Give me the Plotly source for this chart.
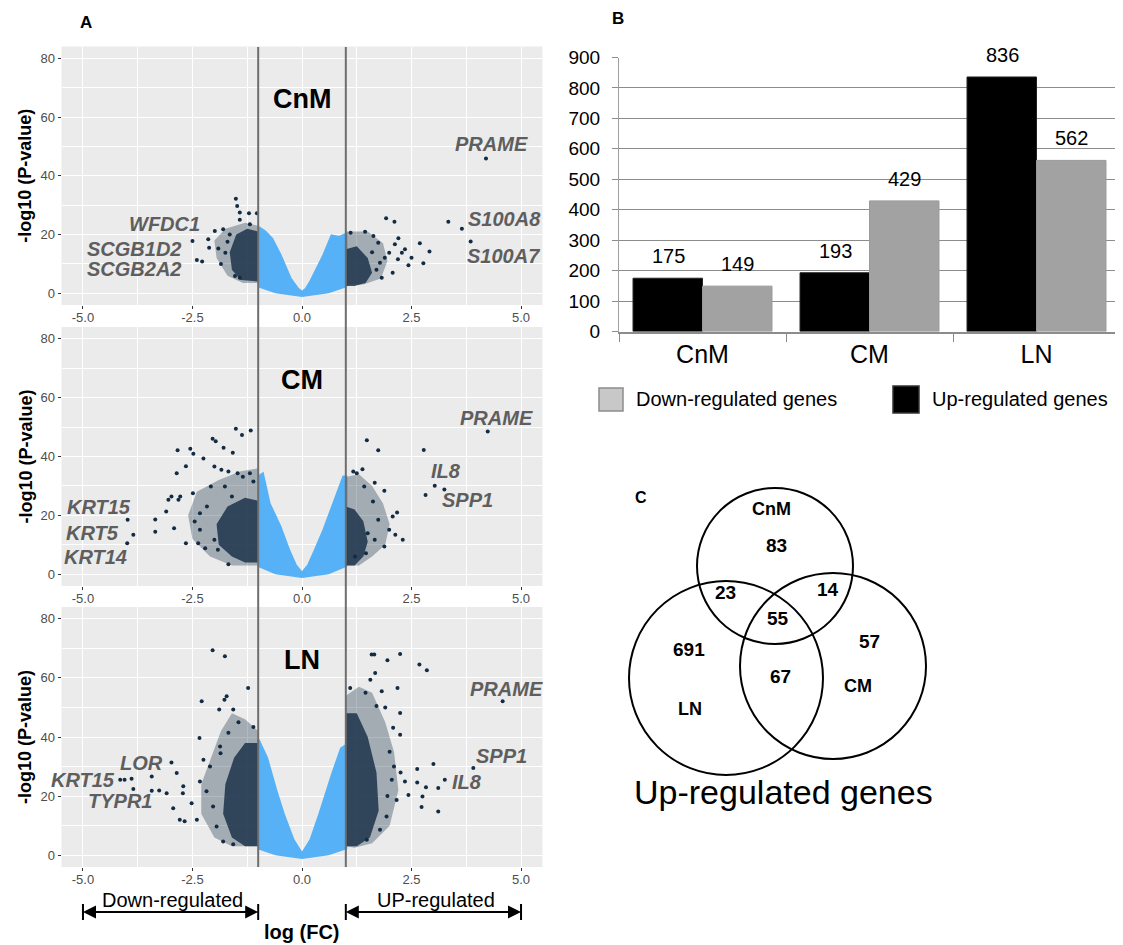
import plotly.graph_objects as go

FONT = "Liberation Sans, Arial, sans-serif"
W, H = 1123, 945
DARK = "#132B43"
LIGHT = "#56B1F7"

# ---------------- Panel A data ----------------
panel_names = ["CnM", "CM", "LN"]

# outline of the dense cloud of non-significant genes (|logFC| < 1)
ns_x = {
    "CnM": [-1.0, -0.85, -0.69, -0.5, -0.27, -0.1, 0.0, 0.1, 0.19, 0.34, 0.5, 0.68, 0.85, 1.0, 1.0, 0.6, 0.0, -0.6, -1.0],
    "CM":  [-1.0, -0.9, -0.75, -0.5, -0.3, -0.15, 0.0, 0.15, 0.3, 0.5, 0.7, 0.85, 0.95, 1.0, 1.0, 0.6, 0.0, -0.6, -1.0],
    "LN":  [-1.0, -0.81, -0.6, -0.43, -0.2, 0.0, 0.2, 0.41, 0.71, 0.9, 1.0, 1.0, 0.6, 0.0, -0.6, -1.0],
}
ns_y = {
    "CnM": [22.5, 21, 18.5, 13, 5, 1.5, 0.3, 1.5, 3.7, 8.2, 13, 19.5, 19, 20, 2.5, 0.5, -0.8, 0.5, 2.5],
    "CM":  [33, 34, 24, 16, 8, 3, 0.3, 3, 8, 15, 23, 29, 33, 33, 3, 0.5, -0.8, 0.5, 3],
    "LN":  [39, 33, 22, 14, 5, 0.3, 5, 14, 28, 36, 37, 2.5, 0.5, -0.8, 0.5, 2.5],
}

# outline of the wider (sparser) area of significant genes, left / right
sig_outer_x = {
    "CnM": [-1, -1, -1.3, -1.75, -2.0, -1.95, -1.7, -1.35, None, 1, 1, 1.5, 1.85, 1.95, 1.8, 1.4],
    "CM":  [-1, -1, -1.4, -1.9, -2.4, -2.6, -2.5, -2.1, -1.6, None, 1, 1, 1.3, 1.6, 1.85, 2.0, 1.9, 1.6, 1.3],
    "LN":  [-1, -1, -1.3, -1.6, -1.85, -2.1, -2.3, -2.3, -2.0, -1.6, None, 1, 1, 1.3, 1.6, 1.9, 2.1, 2.2, 2.0, 1.6, 1.2],
}
sig_outer_y = {
    "CnM": [3.5, 23, 24, 22, 18, 12, 6, 3.5, None, 3, 21, 21, 17, 11, 5, 3],
    "CM":  [3, 36, 35, 32, 28, 20, 12, 6, 3, None, 3, 33, 34, 30, 24, 17, 10, 6, 3],
    "LN":  [3, 42, 46, 48, 42, 32, 24, 14, 6, 3, None, 3, 54, 57, 55, 45, 35, 22, 10, 4, 2.5],
}
# outline of the densest core of significant genes
sig_core_x = {
    "CnM": [-1, -1, -1.25, -1.5, -1.65, -1.6, -1.4, None, 1, 1, 1.25, 1.5, 1.6, 1.45, 1.2],
    "CM":  [-1, -1, -1.3, -1.7, -1.95, -1.9, -1.6, -1.3, None, 1, 1, 1.2, 1.4, 1.5, 1.4, 1.2],
    "LN":  [-1, -1, -1.3, -1.55, -1.75, -1.8, -1.6, -1.3, None, 1, 1, 1.25, 1.5, 1.7, 1.75, 1.55, 1.25],
}
sig_core_y = {
    "CnM": [4, 21, 22, 20, 14, 8, 4.5, None, 2.5, 15, 16, 12, 7, 3.5, 2.5],
    "CM":  [4, 25, 26, 23, 17, 10, 6, 4, None, 3, 23, 22, 18, 11, 6, 3],
    "LN":  [3, 38, 38, 33, 24, 14, 6, 3, None, 3, 48, 48, 40, 28, 15, 6, 3],
}

# individually visible significant genes
pts_x = {
    "CnM": [4.2, 3.34, 3.65, 3.85, 1.92, 2.11, 2.69, 2.91, 2.77, 2.5, 2.43, 2.2, 2.12, 2.35, 2.07,
            1.82, 1.44, 1.11, 1.63, 1.74, 1.89, 1.78, 1.99, 2.28, 2.19, 1.7, 1.6,
            -1.51, -1.48, -1.42, -1.03, -2.50, -2.40, -2.28, -2.14, -1.99, -2.12, -1.91, -1.80,
            -1.65, -1.42, -1.53, -1.21, -1.19, -1.42, -1.75, -1.85, -1.7],
    "CM":  [4.24, 2.78, 3.03, 3.25, 2.82, 1.48, 1.74, 2.17, 2.30, 2.13, 1.88, 1.88, 1.66, 1.38, 1.17,
            1.25, 1.42, 1.62, 1.74, 1.50, 1.66, 1.99, 2.07, 1.46, 1.21,
            -1.51, -1.37, -1.17, -2.04, -1.97, -1.79, -1.58, -2.84, -2.55, -2.48, -2.65, -2.25,
            -3.98, -3.85, -3.99, -3.35, -3.35, -3.1, -2.92, -2.98, -2.82, -2.65, -1.68, -2.49,
            -2.33, -2.45, -2.33, -2.08, -2.17, -2.0, -1.84, -1.68, -1.47, -1.35, -1.19, -1.11,
            -1.92, -2.0, -2.21, -2.37, -2.78, -3.05, -2.86, -1.76, -1.60],
    "LN":  [4.58, 3.91, 3.0, 2.63, 2.63, 2.83, 2.43, 2.35, 2.75, 2.73, 3.11, 3.11, 3.26, 1.59, 1.65,
            2.24, 1.95, 2.68, 2.85, 1.67, 1.56, 2.18, 1.82, 1.10, 2.24, 2.08, 2.24, 2.05, 2.16,
            1.93, 1.78, 1.48, 1.9, 2.0, 2.1, 2.25, 1.95, 1.45, 1.7,
            -2.04, -1.76, -1.23, -2.29, -1.72, -1.77, -1.89, -1.57, -2.34, -1.68, -1.11, -2.98,
            -3.43, -3.89, -4.05, -4.15, -3.85, -3.43, -3.26, -3.09, -2.94, -2.79, -2.68, -2.86,
            -2.71, -2.72, -2.52, -2.40, -2.33, -2.25, -2.10, -2.18, -2.03, -1.95, -1.80, -1.57,
            -1.87, -1.86, -1.45],
}
pts_y = {
    "CnM": [45.9, 24.3, 22.0, 17.6, 25.5, 24.3, 17.0, 14.2, 10.2, 12.1, 9.5, 18.7, 16.7, 15.0, 7.0,
            5.3, 20.9, 20.6, 19.5, 17.2, 12.1, 10.4, 13.8, 13.8, 11.6, 8.0, 14.0,
            32.2, 29.7, 27.5, 27.2, 17.8, 11.3, 10.8, 18.4, 21.2, 15.5, 15.2, 21.8,
            20.0, 5.3, 5.9, 27.2, 23.5, 25.0, 13.8, 10.0, 17.5],
    "CM":  [48.5, 42.2, 30.1, 28.8, 26.9, 45.5, 42.1, 21.0, 11.7, 13.4, 9.4, 28.4, 31.1, 35.7, 34.9,
            34.3, 29.8, 24.7, 18.5, 13.9, 11.7, 15.1, 19.6, 7.1, 6.0,
            49.4, 47.3, 48.8, 46.0, 45.2, 43.0, 41.3, 42.1, 42.6, 40.9, 36.7, 39.3,
            18.5, 13.4, 10.5, 18.6, 14.4, 21.3, 15.6, 26.4, 25.3, 10.5, 3.4, 27.5,
            20.7, 17.9, 15.1, 29.8, 23.0, 36.6, 35.5, 34.9, 34.3, 33.1, 34.3, 31.5,
            8.3, 11.7, 8.8, 10.5, 26.4, 25.3, 34.3, 29.8, 26.4],
    "LN":  [52.1, 29.5, 30.9, 29.2, 24.6, 23.0, 20.4, 24.9, 19.9, 16.3, 22.7, 14.8, 25.5, 67.9, 67.9,
            68.1, 66.0, 64.5, 62.6, 61.7, 59.4, 56.6, 55.5, 56.6, 48.1, 43.1, 40.8, 25.5, 18.7,
            13.1, 8.6, 5.2, 50.0, 35.0, 30.0, 28.0, 20.0, 55.0, 50.5,
            69.4, 67.3, 56.6, 52.1, 53.8, 52.6, 49.3, 49.3, 39.7, 41.4, 43.4, 31.4,
            26.6, 25.9, 25.5, 25.5, 22.4, 21.8, 21.9, 21.0, 15.9, 12.0, 11.5, 27.8,
            23.3, 21.0, 17.6, 12.0, 24.9, 32.3, 30.0, 21.6, 16.5, 9.7, 4.6, 3.7,
            36.8, 34.5, 45.0],
}

gene_names = {
    "CnM": ["PRAME", "S100A8", "S100A7", "WFDC1", "SCGB1D2", "SCGB2A2"],
    "CM":  ["PRAME", "IL8", "SPP1", "KRT15", "KRT5", "KRT14"],
    "LN":  ["PRAME", "SPP1", "IL8", "LOR", "KRT15", "TYPR1"],
}
gene_label_x = {
    "CnM": [4.33, 4.63, 4.59, -3.13, -3.84, -3.84],
    "CM":  [4.43, 3.29, 3.78, -4.63, -4.79, -4.71],
    "LN":  [4.67, 4.56, 3.76, -3.66, -4.99, -4.16],
}
gene_label_y = {
    "CnM": [50.7, 25.2, 12.7, 23.5, 15.0, 8.2],
    "CM":  [53.0, 35.2, 25.3, 23.0, 14.0, 6.0],
    "LN":  [56.3, 33.7, 24.9, 31.2, 25.5, 18.2],
}

x_tickvals = [-5.0, -2.5, 0.0, 2.5, 5.0]
x_ticktext = ["-5.0", "-2.5", "0.0", "2.5", "5.0"]
y_tickvals = [0, 20, 40, 60, 80]
fc_cutoff = [-1.0, 1.0]

# ---------------- Panel B data ----------------
bar_groups = ["CnM", "CM", "LN"]
up_counts = [175, 193, 836]
down_counts = [149, 429, 562]
series_names = ["Down-regulated genes", "Up-regulated genes"]

# ---------------- Panel C data ----------------
venn_sets = ["CnM", "CM", "LN"]
venn_counts = {"CnM only": 83, "CnM&LN": 23, "CnM&CM": 14, "all": 55,
               "LN only": 691, "CM only": 57, "CM&LN": 67}

# ---------------- layout geometry ----------------
OFF = 8  # page body margin


def px(xp):
    return (xp - OFF) / W


def py(yp):
    return 1 - (yp - OFF) / H


def ctr(**kw):
    d = dict(xanchor="center", yanchor="middle", showarrow=False)
    d.update(kw)
    return d


panel_px = {"CnM": (46.5, 305), "CM": (327, 586), "LN": (607, 867)}
A_X = (61.5, 542.5)

fig = go.Figure()
layout = dict(
    width=W, height=H, margin=dict(l=0, r=0, t=0, b=0, autoexpand=False),
    paper_bgcolor="white", plot_bgcolor="white",
    font=dict(family=FONT, color="black"),
    showlegend=False,
)
shapes = []
annotations = []

for i, name in enumerate(panel_names, start=1):
    xa = "x" if i == 1 else f"x{i}"
    ya = "y" if i == 1 else f"y{i}"
    xk = "xaxis" if i == 1 else f"xaxis{i}"
    yk = "yaxis" if i == 1 else f"yaxis{i}"
    top, bot = panel_px[name]
    layout[xk] = dict(
        domain=[px(A_X[0]), px(A_X[1])], range=[-5.49, 5.49], anchor=ya,
        tickmode="array", tickvals=x_tickvals, ticktext=x_ticktext,
        showgrid=True, gridcolor="white", gridwidth=1.3, zeroline=False,
        minor=dict(tickmode="array", tickvals=[-3.75, -1.25, 1.25, 3.75], showgrid=True,
                   gridcolor="white", gridwidth=0.6),
        ticks="outside", ticklen=3, tickcolor="#333333", ticklabelstandoff=-3,
        tickfont=dict(size=13, color="#4D4D4D", family=FONT), showline=False,
    )
    layout[yk] = dict(
        domain=[py(bot), py(top)], range=[-4, 84], anchor=xa,
        tickmode="array", tickvals=y_tickvals,
        showgrid=True, gridcolor="white", gridwidth=1.3, zeroline=False,
        minor=dict(tickmode="array", tickvals=[10, 30, 50, 70], showgrid=True,
                   gridcolor="white", gridwidth=0.6),
        ticks="outside", ticklen=3, tickcolor="#333333",
        tickfont=dict(size=13, color="#4D4D4D", family=FONT), showline=False,
    )
    shapes.append(dict(type="rect", xref=f"{xa} domain", yref=f"{ya} domain",
                       x0=0, x1=1, y0=0, y1=1, fillcolor="#EBEBEB", line=dict(width=0),
                       layer="below"))

    fig.add_trace(go.Scatter(x=ns_x[name], y=ns_y[name], xaxis=xa, yaxis=ya, mode="lines",
                             fill="toself", fillcolor=LIGHT, line=dict(color=LIGHT, width=3),
                             showlegend=False, hoverinfo="skip"))
    fig.add_trace(go.Scatter(x=sig_outer_x[name], y=sig_outer_y[name], xaxis=xa, yaxis=ya,
                             mode="lines", fill="toself", fillcolor="rgba(19,43,67,0.33)",
                             line=dict(width=0), showlegend=False, hoverinfo="skip"))
    fig.add_trace(go.Scatter(x=sig_core_x[name], y=sig_core_y[name], xaxis=xa, yaxis=ya,
                             mode="lines", fill="toself", fillcolor="rgba(19,43,67,0.8)",
                             line=dict(width=0), showlegend=False, hoverinfo="skip"))
    fig.add_trace(go.Scatter(x=pts_x[name], y=pts_y[name], xaxis=xa, yaxis=ya, mode="markers",
                             marker=dict(size=4, color=DARK), showlegend=False))

    annotations.append(ctr(x=0, y=66, xref=xa, yref=ya, text=f"<b>{name}</b>",
                           font=dict(size=27, color="black", family=FONT)))
    for g, gx, gy in zip(gene_names[name], gene_label_x[name], gene_label_y[name]):
        annotations.append(ctr(x=gx, y=gy, xref=xa, yref=ya, text=f"<b><i>{g}</i></b>",
                               font=dict(size=20, color="#5E5E5E", family=FONT)))
    annotations.append(ctr(x=px(25), y=py((top + bot) / 2), xref="paper", yref="paper",
                           text="<b>-log10 (P-value)</b>", textangle=-90,
                           font=dict(size=18, color="black", family=FONT)))

# cut-off lines spanning all three volcano panels
for c in fc_cutoff:
    shapes.append(dict(type="line", xref="x3", yref="paper", x0=c, x1=c,
                       y0=py(867), y1=py(47), line=dict(color="#6E6E6E", width=2), layer="above"))

# direction arrows
arrow_y = py(912)
for a, b in [(-5.0, -1.0), (1.0, 5.0)]:
    mid = (a + b) / 2
    shapes.append(dict(type="line", xref="x3", yref="paper", x0=a + 0.2, x1=b - 0.2,
                       y0=arrow_y, y1=arrow_y, line=dict(color="black", width=2)))
    for end in (a, b):
        annotations.append(dict(x=end, y=arrow_y, xref="x3", yref="paper", ax=mid, ay=0,
                                axref="x3", ayref="pixel", text="", showarrow=True,
                                arrowhead=2, arrowsize=1.3, arrowwidth=2, arrowcolor="black"))
        shapes.append(dict(type="line", xref="x3", yref="paper", x0=end, x1=end,
                           y0=py(920), y1=py(904), line=dict(color="black", width=2)))
annotations.append(ctr(x=-2.95, y=py(900), xref="x3", yref="paper", text="Down-regulated",
                       font=dict(size=20, color="black", family=FONT)))
annotations.append(ctr(x=3.05, y=py(900), xref="x3", yref="paper", text="UP-regulated",
                       font=dict(size=20, color="black", family=FONT)))
annotations.append(ctr(x=0.0, y=py(932), xref="x3", yref="paper", text="<b>log (FC)</b>",
                       font=dict(size=20, color="black", family=FONT)))
annotations.append(ctr(x=px(86), y=py(22), xref="paper", yref="paper", text="<b>A</b>",
                       font=dict(size=17, color="black", family=FONT)))

# ---------------- Panel B ----------------
fig.add_trace(go.Bar(x=bar_groups, y=up_counts, name=series_names[1], xaxis="x4", yaxis="y4",
                     marker=dict(color="black", line=dict(color="#222222", width=1))))
fig.add_trace(go.Bar(x=bar_groups, y=down_counts, name=series_names[0], xaxis="x4", yaxis="y4",
                     marker=dict(color="#A2A2A2", line=dict(color="#9A9A9A", width=1))))
layout["xaxis4"] = dict(domain=[px(619), px(1120)], anchor="y4", type="category",
                        showline=True, linecolor="#8C8C8C", linewidth=1.5,
                        ticks="outside", tickson="boundaries", ticklen=9, tickcolor="#8C8C8C",
                        tickfont=dict(size=25, color="black", family=FONT), showgrid=False)
layout["yaxis4"] = dict(domain=[py(331.5), py(57.5)], anchor="x4", range=[0, 900], dtick=100,
                        showgrid=True, gridcolor="#8C8C8C", gridwidth=1, zeroline=False,
                        showline=True, linecolor="#A0A0A0", linewidth=1,
                        ticks="outside", ticklen=6, tickcolor="#8C8C8C", ticklabelstandoff=8,
                        tickfont=dict(size=19, color="black", family=FONT))
layout["bargap"] = 0.168
layout["bargroupgap"] = 0
for g, v in zip(bar_groups, up_counts):
    annotations.append(ctr(x=g, y=v, xref="x4", yref="y4", xshift=-34.5, yshift=22, text=str(v),
                           font=dict(size=20, color="black", family=FONT)))
for g, v in zip(bar_groups, down_counts):
    annotations.append(ctr(x=g, y=v, xref="x4", yref="y4", xshift=34.5, yshift=22, text=str(v),
                           font=dict(size=20, color="black", family=FONT)))
# legend (drawn as boxes + labels, same order as the reference)
legend_boxes = [(599, 388, 623, 411, "#C8C8C8", "#8C8C8C"), (893, 386, 919, 413, "black", "#333333")]
legend_text_x = [634, 930]
for (x0, y0, x1, y1, fc, lc), tx, nm in zip(legend_boxes, legend_text_x, series_names):
    shapes.append(dict(type="rect", xref="paper", yref="paper", x0=px(x0), x1=px(x1),
                       y0=py(y1), y1=py(y0), fillcolor=fc, line=dict(color=lc, width=1.5)))
    annotations.append(dict(x=px(tx), y=py(399), xref="paper", yref="paper", text=nm,
                            xanchor="left", yanchor="middle", showarrow=False,
                            font=dict(size=20, color="black", family=FONT)))
annotations.append(ctr(x=px(618), y=py(18), xref="paper", yref="paper", text="<b>B</b>",
                       font=dict(size=17, color="black", family=FONT)))

# ---------------- Panel C (Venn) ----------------
circle_geom = {"CnM": (775, 566, 78), "LN": (726, 678, 97), "CM": (833, 666, 93)}
for s in venn_sets:
    cx, cy, r = circle_geom[s]
    shapes.append(dict(type="circle", xref="paper", yref="paper",
                       x0=px(cx - r), x1=px(cx + r), y0=py(cy + r), y1=py(cy - r),
                       line=dict(color="black", width=2)))
venn_pos = {"CnM only": (776, 545), "CnM&LN": (725, 592), "CnM&CM": (828, 589), "all": (778, 618),
            "LN only": (689, 649), "CM only": (869, 641), "CM&LN": (780, 676)}
for k, v in venn_counts.items():
    xp, yp = venn_pos[k]
    annotations.append(ctr(x=px(xp), y=py(yp), xref="paper", yref="paper", text=f"<b>{v}</b>",
                           font=dict(size=19, color="black", family=FONT)))
set_label_pos = {"CnM": (771, 509), "CM": (858, 686), "LN": (690, 709)}
for s in venn_sets:
    xp, yp = set_label_pos[s]
    annotations.append(ctr(x=px(xp), y=py(yp), xref="paper", yref="paper", text=f"<b>{s}</b>",
                           font=dict(size=18, color="black", family=FONT)))
annotations.append(ctr(x=px(641), y=py(497), xref="paper", yref="paper", text="<b>C</b>",
                       font=dict(size=16, color="black", family=FONT)))
annotations.append(ctr(x=px(783), y=py(792), xref="paper", yref="paper", text="Up-regulated genes",
                       font=dict(size=34, color="black", family=FONT)))

layout["shapes"] = shapes
layout["annotations"] = annotations
fig.update_layout(**layout)
fig.write_html("out.html")
